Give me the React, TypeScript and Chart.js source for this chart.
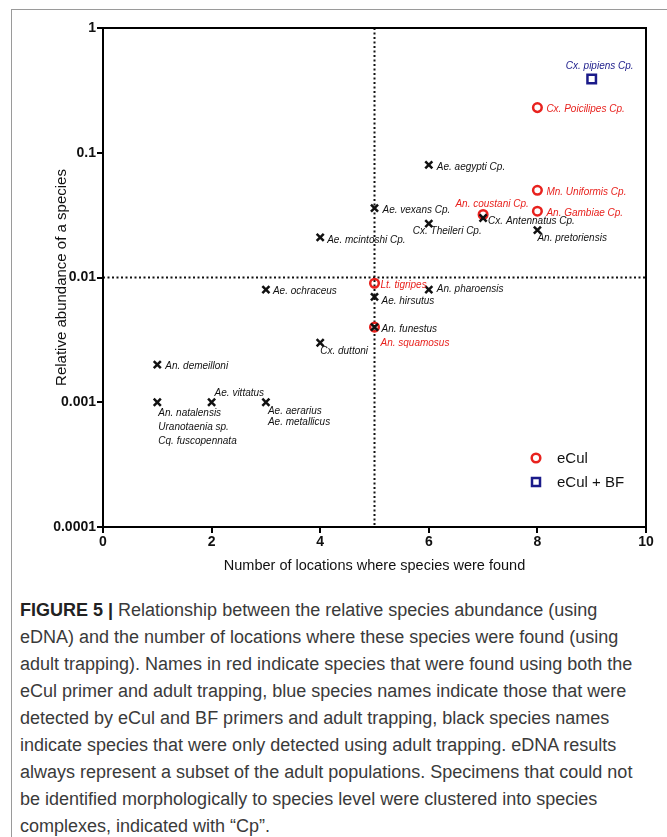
import React, { useEffect, useRef } from "react";
import { Chart, registerables } from "chart.js";

Chart.register(...registerables);

// ---------- data ----------
const yTickValues = [0.0001, 0.001, 0.01, 0.1, 1];
const yTickLabels = ["0.0001", "0.001", "0.01", "0.1", "1"];
const xTickLabels = ["0", "2", "4", "6", "8", "10"];

// species found only with adult trapping (black)
const trapNames = [
  "Ae. aegypti Cp.",
  "Ae. vexans Cp.",
  "Cx. Theileri Cp.",
  "Ae. mcintoshi Cp.",
  "Cx. Antennatus Cp.",
  "An. pretoriensis",
  "Ae. ochraceus",
  "An. pharoensis",
  "Ae. hirsutus",
  "An. funestus",
  "Cx. duttoni",
  "An. demeilloni",
  "An. natalensis\nUranotaenia sp.\nCq. fuscopennata",
  "Ae. vittatus",
  "Ae. aerarius\nAe. metallicus",
];
const trapLocations = [6, 5, 6, 4, 7, 8, 3, 6, 5, 5, 4, 1, 1, 2, 3];
const trapAbundance = [0.08, 0.036, 0.027, 0.021, 0.03, 0.024, 0.008, 0.008, 0.007, 0.004, 0.003, 0.002, 0.001, 0.001, 0.001];

// species found with eCul primer + adult trapping (red)
const eculNames = ["Cx. Poicilipes Cp.", "Mn. Uniformis Cp.", "An. Gambiae Cp.", "An. coustani Cp.", "Lt. tigripes", "An. squamosus"];
const eculLocations = [8, 8, 8, 7, 5, 5];
const eculAbundance = [0.23, 0.05, 0.034, 0.032, 0.009, 0.004];

// species found with eCul + BF primers + adult trapping (blue)
const bfNames = ["Cx. pipiens Cp."];
const bfLocations = [9];
const bfAbundance = [0.39];

// ---------- label placement (style, not data): [dx, dy, align, lineHeight] ----------
const trapLabelPos: [number, number, CanvasTextAlign, number][] = [
  [8, 2, "left", 12],
  [8, 2, "left", 12],
  [-16, 8, "left", 12],
  [7, 3, "left", 12],
  [5, 3, "left", 12],
  [0, 8, "left", 12],
  [7, 2, "left", 12],
  [8, 0, "left", 12],
  [7, 4, "left", 12],
  [7, 2, "left", 12],
  [0, 8, "left", 12],
  [8, 2, "left", 12],
  [1, 11, "left", 14],
  [3, -9, "left", 12],
  [2, 9, "left", 11],
];
const eculLabelPos: [number, number, CanvasTextAlign, number][] = [
  [9, 2, "left", 12],
  [9, 2, "left", 12],
  [9, 2, "left", 12],
  [9, -10, "center", 12],
  [6, 2, "left", 12],
  [6, 16, "left", 12],
];
const bfLabelPos: [number, number, CanvasTextAlign, number][] = [[8, -13, "center", 12]];

const RED = "#e8221e";
const BLUE = "#1b1b8a";
const BLACK = "#111111";
const FONT = "'Liberation Sans', Arial, Helvetica, sans-serif";

const labelsPlugin = {
  id: "pointLabels",
  beforeDatasetsDraw(chart: any) {
    const { ctx, chartArea, scales } = chart;
    const x5 = scales.x.getPixelForValue(5);
    const y01 = scales.y.getPixelForValue(0.01);
    ctx.save();
    ctx.strokeStyle = "#111";
    ctx.lineWidth = 2;
    ctx.setLineDash([2, 2.5]);
    ctx.beginPath();
    ctx.moveTo(x5, chartArea.top);
    ctx.lineTo(x5, chartArea.bottom);
    ctx.moveTo(chartArea.left, y01);
    ctx.lineTo(chartArea.right, y01);
    ctx.stroke();
    ctx.restore();
  },
  afterDatasetsDraw(chart: any) {
    const { ctx, chartArea } = chart;
    const groups = [
      { names: trapNames, pos: trapLabelPos, color: BLACK, ds: 2 },
      { names: eculNames, pos: eculLabelPos, color: RED, ds: 0 },
      { names: bfNames, pos: bfLabelPos, color: BLUE, ds: 1 },
    ];
    ctx.save();
    ctx.font = `italic 10px ${FONT}`;
    ctx.textBaseline = "middle";
    groups.forEach((g) => {
      const meta = chart.getDatasetMeta(g.ds);
      meta.data.forEach((pt: any, i: number) => {
        const [dx, dy, align, lh] = g.pos[i];
        ctx.fillStyle = g.color;
        ctx.textAlign = align;
        g.names[i].split("\n").forEach((line: string, k: number) => {
          ctx.fillText(line, pt.x + dx, pt.y + dy + k * lh);
        });
      });
    });
    ctx.restore();

    // frame around plot
    ctx.save();
    ctx.strokeStyle = "#000";
    ctx.lineWidth = 2;
    ctx.strokeRect(chartArea.left, chartArea.top, chartArea.right - chartArea.left, chartArea.bottom - chartArea.top);
    ctx.restore();

    // legend
    const lx = chartArea.right - 110;
    const ly1 = chartArea.bottom - 69;
    const ly2 = chartArea.bottom - 45;
    ctx.save();
    ctx.lineWidth = 2.5;
    ctx.strokeStyle = RED;
    ctx.beginPath();
    ctx.arc(lx, ly1, 4.3, 0, Math.PI * 2);
    ctx.stroke();
    ctx.strokeStyle = BLUE;
    ctx.strokeRect(lx - 4, ly2 - 4, 8, 8);
    ctx.fillStyle = "#111";
    ctx.font = `15px ${FONT}`;
    ctx.textAlign = "left";
    ctx.textBaseline = "middle";
    ctx.fillText("eCul", lx + 21, ly1 + 1);
    ctx.fillText("eCul + BF", lx + 21, ly2 + 1);
    ctx.restore();
  },
};

function ScatterChart() {
  const ref = useRef<HTMLCanvasElement>(null);
  useEffect(() => {
    if (!ref.current) return;
    const chart = new Chart(ref.current, {
      type: "scatter",
      data: {
        datasets: [
          {
            label: "eCul",
            data: eculLocations.map((x, i) => ({ x, y: eculAbundance[i] })),
            pointStyle: "circle",
            pointRadius: 4.3,
            borderWidth: 2.5,
            borderColor: RED,
            backgroundColor: "rgba(255,255,255,0)",
            order: 2,
          },
          {
            label: "eCul + BF",
            data: bfLocations.map((x, i) => ({ x, y: bfAbundance[i] })),
            pointStyle: "rect",
            pointRadius: 6,
            borderWidth: 2.5,
            borderColor: BLUE,
            backgroundColor: "rgba(255,255,255,0)",
            order: 1,
          },
          {
            label: "Adult trapping",
            data: trapLocations.map((x, i) => ({ x, y: trapAbundance[i] })),
            pointStyle: "crossRot",
            pointRadius: 5,
            borderWidth: 2.5,
            borderColor: BLACK,
            backgroundColor: BLACK,
            order: 0,
          },
        ],
      },
      options: {
        responsive: false,
        animation: false,
        events: [],
        layout: { padding: { left: 0, right: 21, top: 28, bottom: 0 } },
        plugins: { legend: { display: false }, tooltip: { enabled: false } },
        scales: {
          x: {
            type: "linear",
            min: 0,
            max: 10,
            afterBuildTicks: (scale: any) => {
              scale.ticks = xTickLabels.map((t) => ({ value: Number(t) }));
            },
            afterFit: (scale: any) => {
              scale.height = 63;
            },
            ticks: {
              callback: (_v: any, i: number) => xTickLabels[i],
              color: "#111",
              font: { family: FONT, size: 14, weight: "bold" },
              padding: 1,
              maxRotation: 0,
            },
            grid: {
              drawOnChartArea: false,
              drawTicks: true,
              tickLength: 6,
              color: "#000",
              lineWidth: 2,
            },
            border: { display: false },
            title: {
              display: true,
              text: "Number of locations where species were found",
              color: "#111",
              font: { family: FONT, size: 14.5 },
              padding: { top: 0, bottom: 15 },
            },
          },
          y: {
            type: "logarithmic",
            min: 0.0001,
            max: 1,
            afterBuildTicks: (scale: any) => {
              scale.ticks = yTickValues.map((v) => ({ value: v }));
            },
            afterFit: (scale: any) => {
              scale.width = 103;
            },
            ticks: {
              callback: (_v: any, i: number) => yTickLabels[i],
              color: "#111",
              font: { family: FONT, size: 14, weight: "bold" },
              padding: 1,
            },
            grid: {
              drawOnChartArea: false,
              drawTicks: true,
              tickLength: 6,
              color: "#000",
              lineWidth: 2,
            },
            border: { display: false },
            title: {
              display: true,
              text: "Relative abundance of a species",
              color: "#111",
              font: { family: FONT, size: 15 },
              padding: { top: 53, bottom: 0 },
            },
          },
        },
      },
      plugins: [labelsPlugin],
    } as any);
    return () => chart.destroy();
  }, []);
  return <canvas ref={ref} width={667} height={590} style={{ position: "absolute", left: 0, top: 0, width: 667, height: 590 }} />;
}

const captionLines = [
  "Relationship between the relative species abundance (using",
  "eDNA) and the number of locations where these species were found (using",
  "adult trapping). Names in red indicate species that were found using both the",
  "eCul primer and adult trapping, blue species names indicate those that were",
  "detected by eCul and BF primers and adult trapping, black species names",
  "indicate species that were only detected using adult trapping. eDNA results",
  "always represent a subset of the adult populations. Specimens that could not",
  "be identified morphologically to species level were clustered into species",
  "complexes, indicated with \u201cCp\u201d.",
];

export default function App() {
  return (
    <div style={{ position: "fixed", left: 0, top: 0, width: 667, height: 837, overflow: "hidden", background: "#fff" }}>
      <div style={{ position: "absolute", left: 11, top: 9, width: 700, height: 900, border: "1px solid #9a9a9a" }} />
      <ScatterChart />
      <div
        style={{
          position: "absolute",
          left: 20,
          top: 597,
          fontFamily: FONT,
          fontSize: 18,
          lineHeight: "27px",
          color: "#3a3a3a",
          whiteSpace: "nowrap",
        }}
      >
        {captionLines.map((l, i) => (
          <div key={i}>
            {i === 0 ? (
              <>
                <b style={{ color: "#222" }}>FIGURE 5 | </b>
                {l}
              </>
            ) : (
              l
            )}
          </div>
        ))}
      </div>
    </div>
  );
}
